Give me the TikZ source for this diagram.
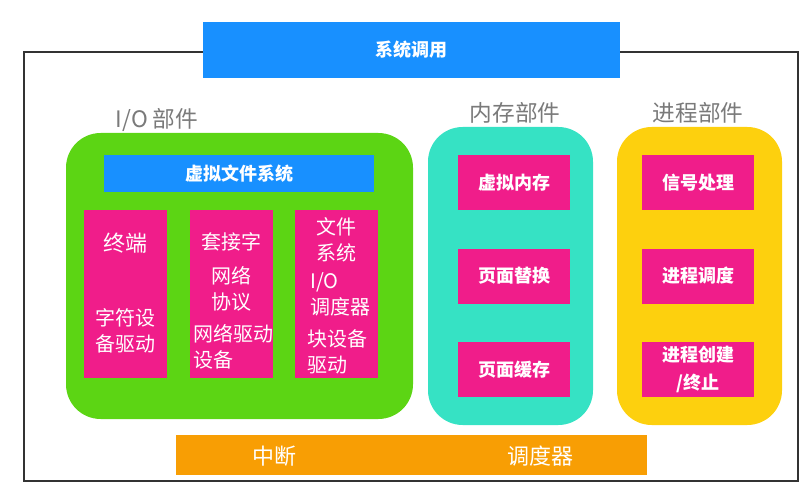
\documentclass[tikz,border=0pt]{standalone}
\usepackage{fontspec}
\setmainfont{Noto Sans CJK SC}
\usepackage{xcolor}
\definecolor{Frame}{HTML}{333333}
\definecolor{SysBlue}{HTML}{1890FF}
\definecolor{IoGreen}{HTML}{5CD514}
\definecolor{MemTeal}{HTML}{36E2C4}
\definecolor{ProcYellow}{HTML}{FDD00E}
\definecolor{BusOrange}{HTML}{F89E04}
\definecolor{CellPink}{HTML}{F01D8A}
\definecolor{LabelGray}{HTML}{7A7A7A}
\tikzset{
  bar/.style={inner sep=0pt,text=white,font=\bfseries\fontsize{13.5}{16}\selectfont},
  part/.style={rounded corners=26pt,inner sep=0pt,minimum width=123.75pt,minimum height=223.5pt},
  partlabel/.style={text=LabelGray,font=\fontsize{17}{20}\selectfont},
  iocell/.style={fill=CellPink,inner sep=0pt,minimum width=62.25pt,minimum height=126pt},
  iotext/.style={text=white,inner sep=0pt,font=\fontsize{15}{19.5}\selectfont},
  cell/.style={fill=CellPink,inner sep=0pt,minimum width=84pt,minimum height=41.25pt,
    text=white,align=center,font=\bfseries\fontsize{13.5}{21}\selectfont},
}
\newcommand{\MemCell}[3]{%
  \node[cell] (#1) at (514,#2) {#3};%
}
\newcommand{\ProcCell}[3]{%
  \node[cell] (#1) at (698,#2) {#3};%
}

\begin{document}
\begin{tikzpicture}[x=0.75pt,y=-0.75pt]
\useasboundingbox (0,0) rectangle (807,499);
\node[draw=Frame,line width=1.1pt,inner sep=0pt,minimum width=580.5pt,minimum height=321.75pt] (frame) at (411,266.5) {};
\node[bar,fill=SysBlue,minimum width=312.75pt,minimum height=42pt] (syscall) at (411.5,50) {系统调用};
% I/O
\node[partlabel] (iolabel) at (157,120) {I/O 部件};
\node[part,fill=IoGreen,minimum width=260.25pt,minimum height=214.5pt] (io) at (239.5,276) {};
\node[bar,fill=SysBlue,minimum width=202.5pt,minimum height=27.75pt] (vfs) at (239,173.5) {虚拟文件系统};
\node[iocell] (term) at (125.5,294) {};
\node[iocell] (sock) at (231.5,294) {};
\node[iocell] (fs) at (336.5,294) {};
\node[iotext,font=\fontsize{16.5}{19.5}\selectfont] (termname) at (125,243) {终端};
\node[iotext,align=left] (chardrv) at (125,330.5) {字符设\\备驱动};
\node[iotext] (socket) at (231,242) {套接字};
\node[iotext,align=center] (netproto) at (231,289) {网络\\协议};
\node[iotext,align=left,anchor=west] (netdrv) at (193,347) {网络驱动\\设备};
\node[iotext,align=center] (filesys) at (336,240) {文件\\系统};
\node[iotext,align=left,anchor=west] (iosched) at (310,294) {I/O\\调度器};
\node[iotext,align=left,anchor=west] (blkdrv) at (307,351.5) {块设备\\驱动};
% memory
\node[partlabel] (memlabel) at (515,113) {内存部件};
\node[part,fill=MemTeal] (mem) at (510.5,276) {};
\MemCell{vmem}{182.5}{虚拟内存}
\MemCell{pagerep}{276}{页面替换}
\MemCell{pagecache}{369.5}{页面缓存}
% process
\node[partlabel] (proclabel) at (698,113) {进程部件};
\node[part,fill=ProcYellow] (proc) at (699.5,276) {};
\ProcCell{signal}{182.5}{信号处理}
\ProcCell{sched}{276}{进程调度}
\ProcCell{create}{369.5}{进程创建\\/终止}
% bottom
\node[fill=BusOrange,inner sep=0pt,minimum width=353.25pt,minimum height=30pt] (bus) at (411.5,455) {};
\node[iotext,font=\fontsize{16.5}{19}\selectfont] (irq) at (274,456) {中断};
\node[iotext,font=\fontsize{16.5}{19}\selectfont] (dispatch) at (540,456) {调度器};
\end{tikzpicture}
\end{document}
